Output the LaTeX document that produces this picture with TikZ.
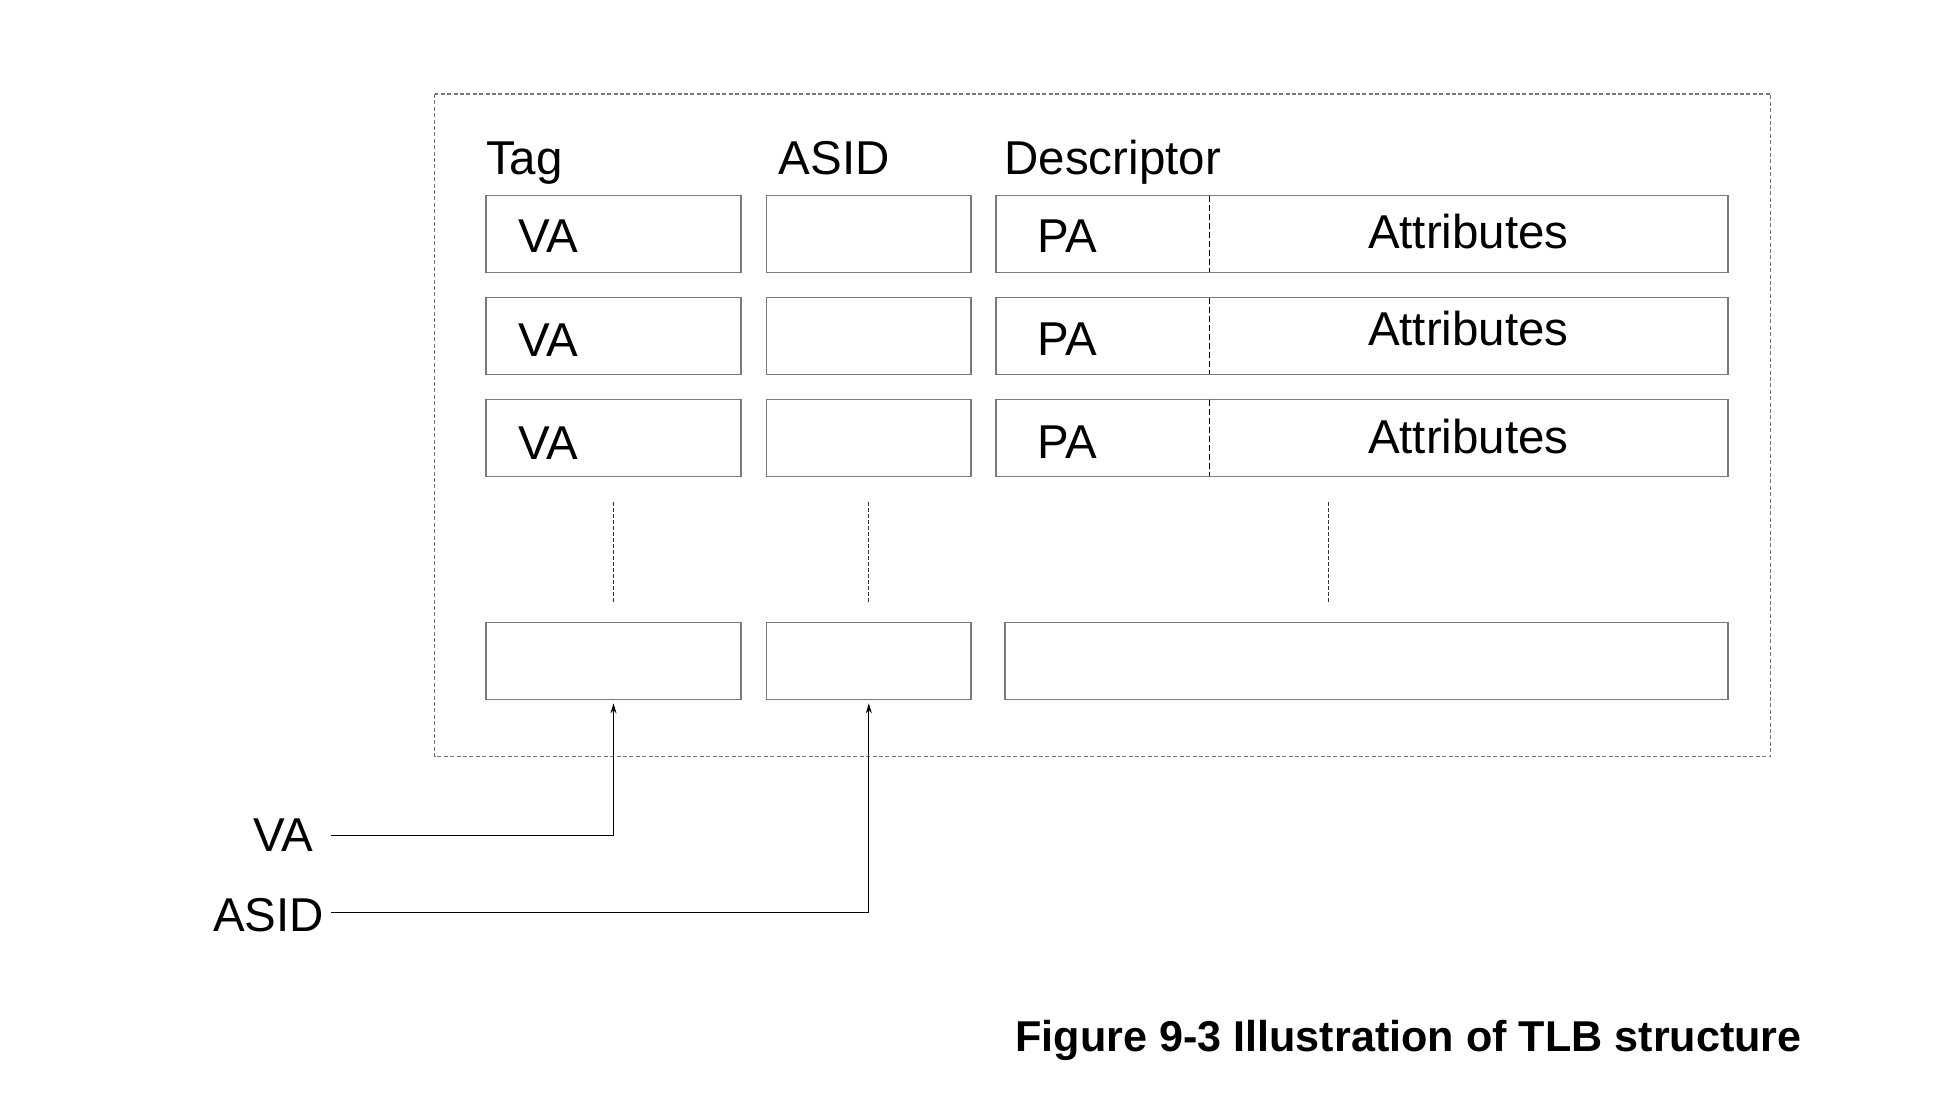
\documentclass[tikz,border=0pt]{standalone}
\usepackage{fontspec}
\setmainfont{Liberation Sans}
\usetikzlibrary{arrows.meta}
\definecolor{boxgray}{HTML}{7A7A7A}
\definecolor{outergray}{HTML}{777777}
\definecolor{dotgray}{HTML}{303030}
\begin{document}
\begin{tikzpicture}[x=0.5pt,y=-0.5pt,
  cell/.style={draw=boxgray, line width=0.65pt, inner sep=0pt, outer sep=0pt, minimum height=38.35pt},
  lbl/.style={anchor=base west, inner sep=0pt, outer sep=0pt, font=\fontsize{23.75}{28}\selectfont},
  captext/.style={anchor=base west, inner sep=0pt, outer sep=0pt, font=\fontsize{21.57}{26}\selectfont\bfseries},
  outerbox/.style={draw=outergray, line width=0.65pt, dash pattern=on 2pt off 1.2pt},
  vdots/.style={draw=dotgray, line width=0.5pt, dash pattern=on 2pt off 1pt},
  divdash/.style={draw=black, line width=0.5pt, dash pattern=on 3pt off 1.5pt},
  arr/.style={draw=black, line width=0.5pt, -{Stealth[length=5pt,width=3pt]}, shorten >=2pt}
]
\useasboundingbox (0,0) rectangle (1940,1114);

% outer dashed frame
\draw[outerbox] (434.5,94) rectangle (1770.5,756.7);

% headers
\node[lbl] (hTag) at (486,174.3) {Tag};
\node[lbl] (hAsid) at (778.7,174.3) {ASID};
\node[lbl] (hDesc) at (1004.5,174.3) {Descriptor};

% rows
\node[cell, minimum width=127.5pt] (tag1) at (613.5,234) {};
\node[cell, minimum width=127.5pt] (tag2) at (613.5,336) {};
\node[cell, minimum width=127.5pt] (tag3) at (613.5,438) {};
\node[cell, minimum width=127.5pt] (tag4) at (613.5,661) {};

\node[cell, minimum width=102.15pt] (asid1) at (868.8,234) {};
\node[cell, minimum width=102.15pt] (asid2) at (868.8,336) {};
\node[cell, minimum width=102.15pt] (asid3) at (868.8,438) {};
\node[cell, minimum width=102.15pt] (asid4) at (868.8,661) {};

\node[cell, minimum width=366pt] (desc1) at (1362,234) {};
\node[cell, minimum width=366pt] (desc2) at (1362,336) {};
\node[cell, minimum width=366pt] (desc3) at (1362,438) {};
\node[cell, minimum width=361.5pt] (desc4) at (1366.5,661) {};

% PA / Attributes dividers
\foreach \r in {1,2,3}{
  \draw[divdash] ([xshift=106.5pt]desc\r.north west) -- ([xshift=106.5pt]desc\r.south west);
}

% texts in cells
\node[lbl] (va1) at (518.5,252.7) {VA};
\node[lbl] (va2) at (518.5,356) {VA};
\node[lbl] (va3) at (518.5,459.3) {VA};
\node[lbl] (pa1) at (1037.5,252.3) {PA};
\node[lbl] (pa2) at (1037.5,355) {PA};
\node[lbl] (pa3) at (1037.5,458.3) {PA};
\node[lbl] (at1) at (1368,248.3) {Attributes};
\node[lbl] (at2) at (1368,345.7) {Attributes};
\node[lbl] (at3) at (1368,453.3) {Attributes};

% continuation marks
\draw[vdots, shorten <=12.85pt, shorten >=9.85pt] (tag3.south) -- (tag4.north);
\draw[vdots, shorten <=12.85pt, shorten >=9.85pt] (asid3.south) -- (asid4.north);
\draw[vdots, shorten <=12.85pt, shorten >=9.85pt] ([xshift=166pt]desc3.south west) -- ([xshift=166pt]desc3.south west |- desc4.north);

% inputs
\node[lbl] (inVA) at (253,851.7) {VA};
\node[lbl] (inASID) at (213,931.7) {ASID};
\coordinate (vaIn) at (331,835.7);
\coordinate (asidIn) at (331,912);
\draw[arr] (vaIn) -| (tag4.south);
\draw[arr] (asidIn) -| (asid4.south);

% caption
\node[captext] (caption) at (1015.5,1051) {Figure 9-3 Illustration of TLB structure};
\end{tikzpicture}
\end{document}
